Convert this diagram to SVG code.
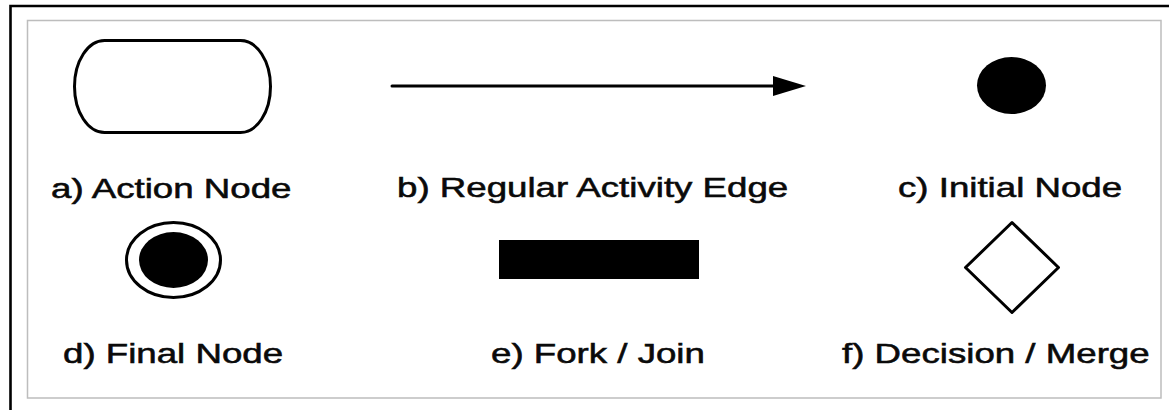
<svg xmlns="http://www.w3.org/2000/svg" width="1169" height="410" viewBox="0 0 1169 410">
  <style>
    .label { font-family: "Liberation Sans", Arial, sans-serif; font-size: 28px; fill: #0a0a0a; stroke: #0a0a0a; stroke-width: 0.55; }
    .outline { fill: #ffffff; stroke: #000000; stroke-width: 3; }
    .solid { fill: #000000; stroke: none; }
    .edge { fill: none; stroke: #000000; stroke-width: 3; stroke-linecap: round; }
  </style>
  <defs>
    <marker id="arrowhead" viewBox="0 0 33 20" refX="0" refY="10" markerWidth="33" markerHeight="20" markerUnits="userSpaceOnUse" orient="auto">
      <path d="M0,0 L33,10 L0,20 Z" fill="#000000"/>
    </marker>
  </defs>

  <!-- page background and frames -->
  <rect x="0" y="0" width="1169" height="410" fill="#ffffff"/>
  <path d="M10.5,412 V6 H1172" fill="none" stroke="#000000" stroke-width="2.6"/>
  <rect x="27.5" y="20.5" width="1133.5" height="377.5" fill="none" stroke="#bdbdbd" stroke-width="1.5"/>

  <!-- a) action node -->
  <g id="action-node">
    <rect class="outline" x="74.5" y="40.5" width="196" height="92" rx="30" ry="46"/>
    <text class="label" transform="translate(51 198) scale(1.31 1)">a) Action Node</text>
  </g>

  <!-- b) regular activity edge -->
  <g id="connectors">
    <line class="edge" x1="392" y1="86" x2="773" y2="86" marker-end="url(#arrowhead)"/>
  </g>
  <g id="edge-label">
    <text class="label" transform="translate(397 197) scale(1.31 1)">b) Regular Activity Edge</text>
  </g>

  <!-- c) initial node -->
  <g id="initial-node">
    <ellipse class="solid" cx="1011.5" cy="85.5" rx="34.5" ry="28.5"/>
    <text class="label" transform="translate(898 197) scale(1.31 1)">c) Initial Node</text>
  </g>

  <!-- d) final node -->
  <g id="final-node">
    <ellipse class="outline" cx="173.5" cy="260" rx="47" ry="37.5"/>
    <ellipse class="solid" cx="173.5" cy="260" rx="34.5" ry="28"/>
    <text class="label" transform="translate(63 363) scale(1.31 1)">d) Final Node</text>
  </g>

  <!-- e) fork / join bar -->
  <g id="fork-join">
    <rect class="solid" x="499" y="240" width="200" height="39"/>
    <text class="label" transform="translate(491 363) scale(1.31 1)">e) Fork / Join</text>
  </g>

  <!-- f) decision / merge diamond -->
  <g id="decision-merge">
    <polygon class="outline" points="1012,222.5 1058.5,267.5 1012,312.5 965.5,267.5" stroke-linejoin="round"/>
    <text class="label" transform="translate(842 363) scale(1.31 1)">f) Decision / Merge</text>
  </g>
</svg>
